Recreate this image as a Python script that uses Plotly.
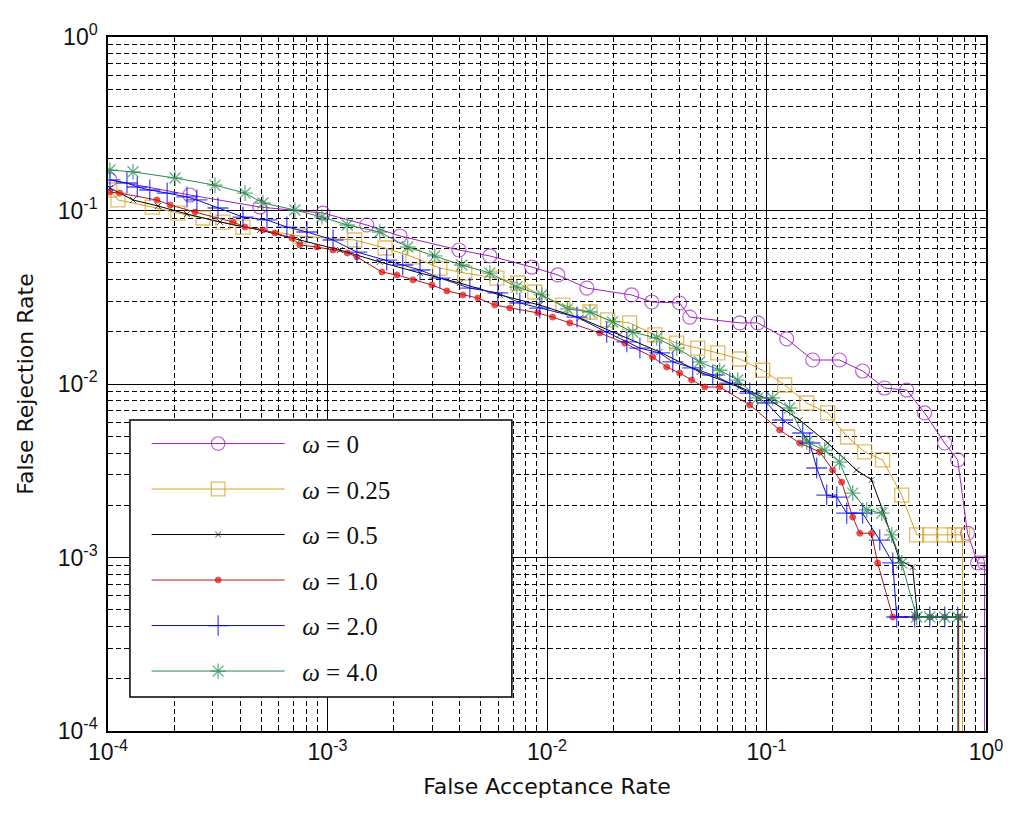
import plotly.graph_objects as go

# ---- data ----
far_w0 = [1.02e-4, 2.36e-4, 4.92e-4, 9.53e-4, 1.51e-3, 2.14e-3, 3.97e-3, 5.49e-3, 8.53e-3, 1.12e-2,
          1.52e-2, 2.43e-2, 3.00e-2, 4.02e-2, 4.47e-2, 7.55e-2, 9.12e-2, 0.1236, 0.1623, 0.215,
          0.274, 0.345, 0.435, 0.525, 0.648, 0.743, 0.824, 0.916, 0.985, 0.985]
frr_w0 = [0.150, 0.1228, 0.1047, 0.0967, 0.0825, 0.0713, 0.0592, 0.0547, 0.0472, 0.0425,
          0.0357, 0.0326, 0.0297, 0.0293, 0.0243, 0.0225, 0.0225, 0.0182, 0.01375, 0.01375,
          0.01188, 9.48e-3, 9.23e-3, 6.81e-3, 4.57e-3, 3.65e-3, 1.38e-3, 9.30e-4, 9.30e-4, 1e-6]

far_w025 = [1.02e-4, 1.11e-4, 1.59e-4, 2.08e-4, 2.71e-4, 3.34e-4, 4.12e-4, 7.48e-4, 1.33e-3, 1.83e-3,
            2.45e-3, 3.25e-3, 4.22e-3, 5.91e-3, 7.36e-3, 8.80e-3, 1.18e-2, 1.57e-2, 1.89e-2, 2.38e-2,
            3.10e-2, 3.90e-2, 4.86e-2, 6.00e-2, 7.55e-2, 9.61e-2, 0.1210, 0.1525, 0.190, 0.234,
            0.280, 0.338, 0.413, 0.483, 0.554, 0.648, 0.719, 0.782, 0.782]
frr_w025 = [0.1313, 0.1150, 0.1047, 0.0967, 0.0905, 0.0858, 0.0803, 0.0713, 0.0676, 0.0608,
            0.0540, 0.0466, 0.0436, 0.0408, 0.0382, 0.0339, 0.0285, 0.0260, 0.0234, 0.0225,
            0.0192, 0.0172, 0.0161, 0.0151, 0.01393, 0.0120, 9.87e-3, 7.77e-3, 6.81e-3, 4.95e-3,
            4.06e-3, 3.65e-3, 2.29e-3, 1.35e-3, 1.35e-3, 1.35e-3, 1.35e-3, 1.35e-3, 1e-6]

far_w05 = [1.02e-4, 1.30e-4, 1.69e-4, 2.29e-4, 3.24e-4, 4.92e-4, 7.48e-4, 1.14e-3, 1.73e-3, 2.64e-3,
           4.01e-3, 6.10e-3, 9.27e-3, 1.41e-2, 2.14e-2, 3.26e-2, 4.96e-2, 7.55e-2, 0.1034, 0.1416,
           0.190, 0.257, 0.301, 0.338, 0.404, 0.463, 0.488, 0.583, 0.750, 0.750]
frr_w05 = [0.1348, 0.1150, 0.1062, 0.0954, 0.0858, 0.0772, 0.0676, 0.0592, 0.0505, 0.0436,
           0.0382, 0.0326, 0.0285, 0.0240, 0.0192, 0.0153, 0.01173, 9.61e-3, 8.09e-3, 6.20e-3,
           4.57e-3, 3.19e-3, 2.80e-3, 1.88e-3, 9.67e-4, 8.81e-4, 4.54e-4, 4.54e-4, 4.54e-4, 1e-6]

far_w1 = [1.02e-4, 1.13e-4, 1.67e-4, 1.92e-4, 2.49e-4, 3.71e-4, 4.21e-4, 5.08e-4, 5.76e-4, 6.88e-4,
          7.48e-4, 8.95e-4, 1.06e-3, 1.23e-3, 1.36e-3, 1.77e-3, 2.07e-3, 2.45e-3, 2.99e-3, 3.50e-3,
          4.14e-3, 4.84e-3, 5.78e-3, 6.77e-3, 9.08e-3, 1.06e-2, 1.27e-2, 1.74e-2, 2.26e-2, 3.03e-2,
          3.51e-2, 4.02e-2, 4.56e-2, 5.23e-2, 6.12e-2, 8.39e-2, 0.1148, 0.1416, 0.1747, 0.200,
          0.220, 0.247, 0.266, 0.301, 0.321, 0.376, 0.473, 0.554, 0.648, 0.750, 0.750]
frr_w1 = [0.1278, 0.126, 0.1150, 0.1076, 0.0980, 0.0858, 0.0803, 0.0772, 0.0742, 0.0694,
          0.0633, 0.0616, 0.0592, 0.0569, 0.0540, 0.0442, 0.0425, 0.0398, 0.0372, 0.0344,
          0.0326, 0.0313, 0.0285, 0.0274, 0.0257, 0.0243, 0.0225, 0.0197, 0.0172, 0.0143,
          0.01253, 0.01157, 0.01054, 9.61e-3, 9.61e-3, 7.57e-3, 5.43e-3, 4.57e-3, 4.06e-3, 3.19e-3,
          2.72e-3, 1.71e-3, 1.38e-3, 1.38e-3, 9.30e-4, 4.54e-4, 4.54e-4, 4.54e-4, 4.54e-4, 4.54e-4, 1e-6]

far_w2 = [1.02e-4, 1.22e-4, 1.36e-4, 1.55e-4, 1.86e-4, 2.29e-4, 2.54e-4, 3.17e-4, 4.12e-4, 5.30e-4,
          6.53e-4, 8.06e-4, 1.06e-3, 1.36e-3, 1.86e-3, 2.20e-3, 2.64e-3, 3.25e-3, 4.45e-3, 5.97e-3,
          7.52e-3, 9.27e-3, 1.37e-2, 1.87e-2, 2.31e-2, 2.65e-2, 3.26e-2, 3.74e-2, 4.61e-2, 5.69e-2,
          6.80e-2, 8.39e-2, 0.1002, 0.1185, 0.1462, 0.1573, 0.1693, 0.188, 0.209, 0.232,
          0.274, 0.328, 0.376, 0.392, 0.473, 0.554, 0.648, 0.743, 0.743]
frr_w2 = [0.150, 0.144, 0.1366, 0.1313, 0.126, 0.1197, 0.1150, 0.1034, 0.0917, 0.0882,
          0.0803, 0.0752, 0.0676, 0.0576, 0.0518, 0.0485, 0.0454, 0.0408, 0.0357, 0.0335,
          0.0293, 0.0274, 0.0243, 0.0199, 0.0175, 0.0161, 0.0151, 0.0134, 0.01237, 0.01127,
          0.01013, 8.87e-3, 7.77e-3, 6.20e-3, 5.22e-3, 4.57e-3, 3.28e-3, 2.29e-3, 2.23e-3, 1.80e-3,
          1.80e-3, 1.26e-3, 9.30e-4, 4.54e-4, 4.54e-4, 4.54e-4, 4.54e-4, 4.54e-4, 2.05e-4]

far_w4 = [1.02e-4, 1.30e-4, 2.02e-4, 3.07e-4, 4.21e-4, 5.08e-4, 7.10e-4, 9.43e-4, 1.23e-3, 1.73e-3,
          2.32e-3, 3.08e-3, 4.09e-3, 5.49e-3, 7.29e-3, 9.47e-3, 1.24e-2, 1.57e-2, 1.99e-2, 2.46e-2,
          3.16e-2, 3.90e-2, 4.96e-2, 6.12e-2, 7.39e-2, 9.12e-2, 0.1067, 0.1275, 0.1525, 0.184,
          0.215, 0.247, 0.286, 0.335, 0.372, 0.413, 0.483, 0.554, 0.648, 0.743, 0.743]
frr_w4 = [0.171, 0.167, 0.154, 0.140, 0.126, 0.1105, 0.1007, 0.0917, 0.0825, 0.0752,
          0.0616, 0.0547, 0.0485, 0.0436, 0.0362, 0.0326, 0.0271, 0.0260, 0.0228, 0.0199,
          0.0184, 0.0161, 0.0134, 0.0120, 0.01054, 8.31e-3, 8.31e-3, 7.27e-3, 4.63e-3, 4.16e-3,
          3.55e-3, 2.35e-3, 1.88e-3, 1.80e-3, 1.35e-3, 9.30e-4, 4.54e-4, 4.54e-4, 4.54e-4, 4.54e-4, 1e-6]

series_names = ["\u2002<i>ω</i> = 0", "\u2002<i>ω</i> = 0.25", "\u2002<i>ω</i> = 0.5",
                "\u2002<i>ω</i> = 1.0", "\u2002<i>ω</i> = 2.0", "\u2002<i>ω</i> = 4.0"]

decade_vals = [1e-4, 1e-3, 1e-2, 1e-1, 1e0]
decade_text = ["10<sup>-4</sup>", "10<sup>-3</sup>", "10<sup>-2</sup>", "10<sup>-1</sup>", "10<sup>0</sup>"]

# ---- styling ----
styles = [
    dict(line="#a020c0", marker=dict(symbol="circle-open", size=14, color="#a020c0", line=dict(width=1.2, color="#a020c0"))),
    dict(line="#d6a020", marker=dict(symbol="square-open", size=14, color="#d6a020", line=dict(width=1.3, color="#d6a020"))),
    dict(line="#000000", marker=dict(symbol="x-thin-open", size=6, color="#000000", line=dict(width=1, color="#000000"))),
    dict(line="#b81818", marker=dict(symbol="circle", size=6, color="#ff0000")),
    dict(line="#1010c0", marker=dict(symbol="cross-thin-open", size=15, color="#0000ff", line=dict(width=1.3, color="#0000ff"))),
    dict(line="#2a8a50", marker=dict(symbol="asterisk-open", size=13, color="#2a8a50", line=dict(width=1.3, color="#2a8a50"))),
]

data = [(far_w0, frr_w0), (far_w025, frr_w025), (far_w05, frr_w05),
        (far_w1, frr_w1), (far_w2, frr_w2), (far_w4, frr_w4)]

fig = go.Figure()
for i, ((xs, ys), name, st) in enumerate(zip(data, series_names, styles)):
    mk = dict(st["marker"])
    # no marker on the final end-of-curve drop point
    mk["size"] = [mk["size"]] * (len(xs) - 1) + [0]
    fig.add_trace(go.Scatter(
        x=xs, y=ys, mode="lines+markers", name=name,
        legendgroup=f"g{i}",
        line=dict(color=st["line"], width=1),
        marker=mk,
    ))

minor_vals = [m * 10 ** e for e in range(-4, 0) for m in range(2, 10)]

axis_common = dict(
    type="log",
    range=[-4, 0],
    tickmode="array",
    tickvals=decade_vals,
    ticktext=decade_text,
    showgrid=True,
    gridcolor="black",
    gridwidth=1,
    showline=True,
    linecolor="black",
    linewidth=1.5,
    mirror="ticks",
    ticks="inside",
    ticklen=7,
    tickcolor="black",
    tickfont=dict(family="Liberation Sans, Arial, sans-serif", size=23, color="#111111"),
    zeroline=False,
    automargin=False,
    minor=dict(tickmode="array", tickvals=minor_vals, showgrid=True, gridcolor="black",
               griddash="5px,3px", gridwidth=1, ticks="inside", ticklen=4, tickcolor="black"),
)

title_font = dict(family="DejaVu Sans, Liberation Sans, sans-serif", size=22, color="#111111")
fig.update_xaxes(**axis_common,
                 title=dict(text="False Acceptance Rate", standoff=14, font=title_font))
fig.update_yaxes(**axis_common, ticklabelstandoff=4,
                 title=dict(text="False Rejection Rate", standoff=18, font=title_font))

# page body adds an 8px offset, compensated in the margins
fig.update_layout(
    width=1024, height=819,
    margin=dict(l=100, r=46, t=29, b=96),
    paper_bgcolor="white",
    plot_bgcolor="white",
    showlegend=True,
    legend=dict(
        x=0.044, y=0.447, xanchor="left", yanchor="top",
        bgcolor="rgba(0,0,0,0)", borderwidth=0,
        font=dict(family="Liberation Serif, DejaVu Serif, serif", size=25, color="#111111"),
        itemwidth=133,
        tracegroupgap=10,
        traceorder="grouped",
    ),
    shapes=[dict(type="rect", xref="paper", yref="paper",
                 x0=0.025, x1=0.460, y0=0.049, y1=0.448,
                 fillcolor="white", line=dict(color="black", width=1.5), layer="above")],
)

fig.write_html("out.html")
